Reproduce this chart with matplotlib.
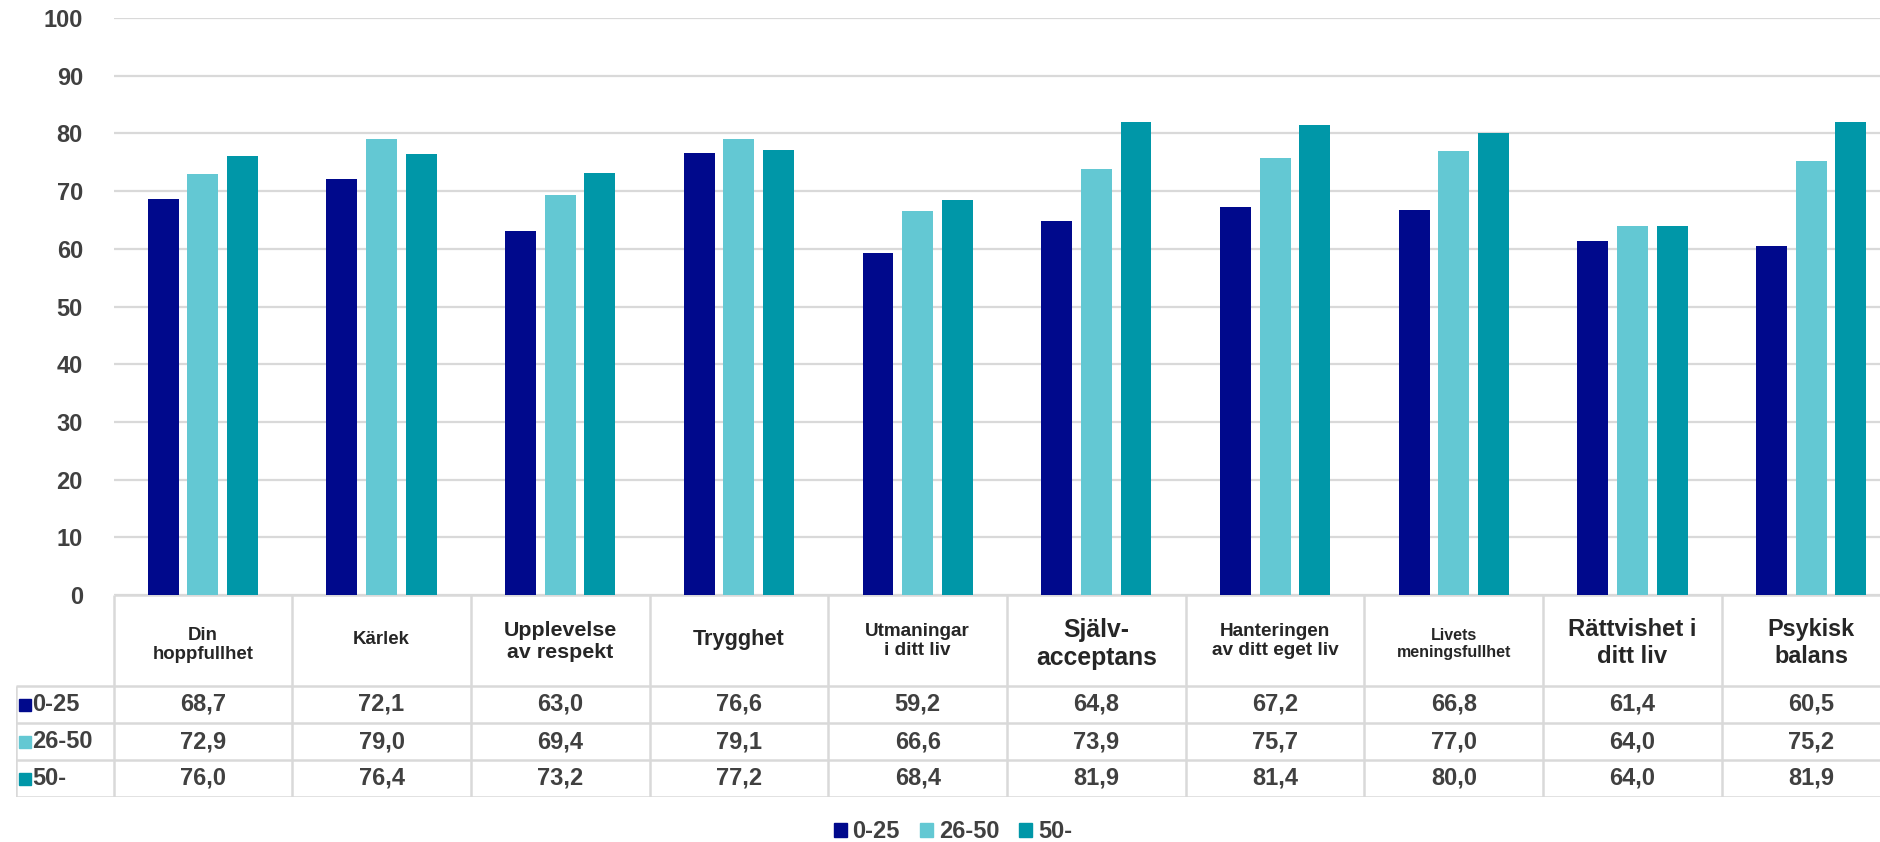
import matplotlib
matplotlib.use('Agg')
import matplotlib.pyplot as plt
from matplotlib import font_manager
from matplotlib.patches import Patch

# Data
categories = ['Din\nhoppfullhet', 'Kärlek', 'Upplevelse\nav respekt', 'Trygghet',
              'Utmaningar\ni ditt liv', 'Själv-\nacceptans', 'Hanteringen\nav ditt eget liv',
              'Livets\nmeningsfullhet', 'Rättvishet i\nditt liv', 'Psykisk\nbalans']
series = ['0-25', '26-50', '50-']
v_0_25 = [68.7, 72.1, 63.0, 76.6, 59.2, 64.8, 67.2, 66.8, 61.4, 60.5]
v_26_50 = [72.9, 79.0, 69.4, 79.1, 66.6, 73.9, 75.7, 77.0, 64.0, 75.2]
v_50 = [76.0, 76.4, 73.2, 77.2, 68.4, 81.9, 81.4, 80.0, 64.0, 81.9]
values = [v_0_25, v_26_50, v_50]
yticks = [0, 10, 20, 30, 40, 50, 60, 70, 80, 90, 100]

colors = ['#00098C', '#63C8D3', '#0097A8']
TXT = '#404040'
GRID = '#D9D9D9'

names = {f.name for f in font_manager.fontManager.ttflist}
BASE = 'Liberation Sans' if 'Liberation Sans' in names else 'DejaVu Sans'
plt.rcParams['font.family'] = [BASE, 'DejaVu Sans']

# header label font sizes (all bold)
head_size = [13.4, 13.4, 15.4, 15.7, 13.6, 17.8, 13.7, 11.5, 17.2, 16.8]
head_y = [645, 639, 641, 639, 641, 644, 641, 644, 643, 643]

W, H = 1880, 842
fig = plt.figure(figsize=(W / 100, H / 100), dpi=100)

col_w = 178.7
x0 = 113.5
xmax = (W - x0) / col_w
y0_pix, y100_pix = 595, 18

ax = fig.add_axes([x0 / W, 1 - y0_pix / H, 1 - x0 / W, (y0_pix - y100_pix) / H])
ax.set_xlim(0, xmax)
ax.set_ylim(0, 100)
for s in ax.spines.values():
    s.set_visible(False)
ax.set_yticks(yticks)
ax.set_yticklabels([str(t) for t in yticks], fontsize=17, fontweight='bold', color=TXT)
ax.tick_params(axis='y', length=0, pad=22)
ax.set_xticks([])
ax.yaxis.grid(True, color=GRID, lw=1.6)
ax.set_axisbelow(True)

bw = 0.173
step = 0.222
for i, (vals, c) in enumerate(zip(values, colors)):
    xs = [k + 0.5 + (i - 1) * step for k in range(len(categories))]
    ax.bar(xs, vals, width=bw, color=c, zorder=3)

# table under the bars
left_pix = 15.6
tab = fig.add_axes([left_pix / W, 1 - 797 / H, 1 - left_pix / W, (797 - 595) / H])
xl = -(x0 - left_pix) / col_w
tab.set_xlim(xl, xmax)
tab.set_ylim(797, 595)
tab.axis('off')

rows = [595, 686, 723, 760, 797]
lk = dict(color=GRID, lw=1.8, solid_capstyle='butt')
tab.plot([0, xmax], [rows[0], rows[0]], **lk)
for r in rows[1:]:
    tab.plot([xl, xmax], [r, r], **lk)
tab.plot([xl, xl], [rows[1], rows[-1]], **lk)
for k in range(len(categories)):
    tab.plot([k, k], [rows[0], rows[-1]], **lk)

for k, (lab, fs, yc) in enumerate(zip(categories, head_size, head_y)):
    tab.text(k + 0.5, yc, lab, ha='center', va='center', fontsize=fs,
             fontweight='bold', color='#262626', linespacing=1.2)

for i, (name, vals, c) in enumerate(zip(series, values, colors)):
    yc = (rows[i + 1] + rows[i + 2]) / 2
    tab.plot([xl + 0.053], [yc], marker='s', ms=8, color=c, ls='none')
    tab.text(xl + 0.093, yc, name, ha='left', va='center', fontsize=17,
             fontweight='bold', color=TXT)
    for k, v in enumerate(vals):
        tab.text(k + 0.5, yc, f'{v:.1f}'.replace('.', ','), ha='center',
                 va='center', fontsize=17, fontweight='bold', color=TXT)

handles = [Patch(color=c, label=s) for s, c in zip(series, colors)]
fig.legend(handles=handles, loc='center', bbox_to_anchor=(953 / W, 1 - 832 / H),
           ncol=3, frameon=False, handlelength=0.55, handleheight=0.55,
           handletextpad=0.25, columnspacing=0.85, borderpad=0,
           prop={'size': 17, 'weight': 'bold'}, labelcolor=TXT)

fig.savefig('out.png', dpi=100)
